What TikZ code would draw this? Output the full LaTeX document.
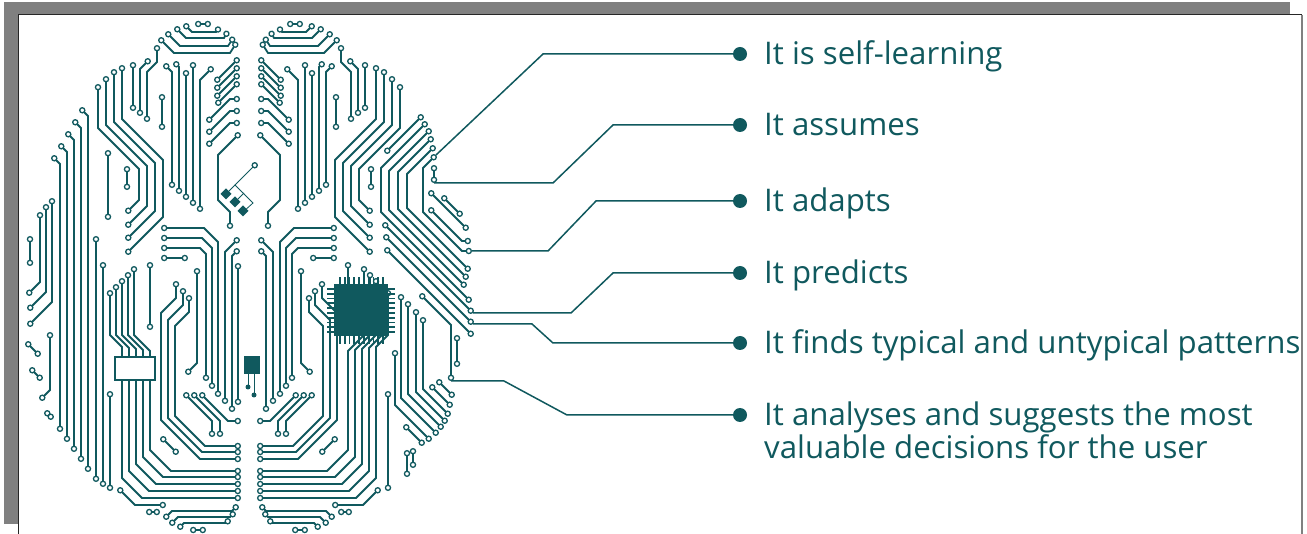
\documentclass[tikz,border=0pt]{standalone}
\usepackage{fontspec}
\setmainfont{Open Sans}
\usetikzlibrary{arrows.meta,positioning}
\definecolor{brain}{RGB}{16,89,94}
\definecolor{shadow}{RGB}{128,128,128}
\tikzset{pad/.tip={Circle[fill=white,length=6.4pt,line width=1.3pt]}}

\begin{document}
\begin{tikzpicture}[x=1pt,y=-1pt,
    tr/.style={draw=brain,line width=1.8pt,pad-pad},
    thinline/.style={draw=brain,line width=0.8pt},
    bullet/.style={circle,fill=brain,inner sep=0pt,minimum size=14pt},
    lbl/.style={anchor=base west,inner sep=0pt,text=brain,align=left,
        font=\fontsize{31.2}{33}\selectfont},
    conn/.style={draw=brain,line width=1.5pt}]
    \useasboundingbox (0,0) rectangle (1307,534);
    % Rahmen
    \fill[shadow] (4,2) rectangle (1290,524);
    \fill[white] (18,15) rectangle (1302,534);
    \draw[black!85,line width=1pt] (18,534) -- (18,15) -- (1302,15);
    \draw[shadow,line width=1.3pt] (1302,15) -- (1302,534);

    % Punkte und Texte
    \node[bullet] (b1) at (740,54) {};
    \node[bullet] (b2) at (740,125) {};
    \node[bullet] (b3) at (740,201) {};
    \node[bullet] (b4) at (740,273) {};
    \node[bullet] (b5) at (740,343) {};
    \node[bullet] (b6) at (740,415) {};
    \node[lbl] (t1) at ([xshift=24pt,yshift=-11pt]b1.center) {It is self-learning};
    \node[lbl] (t2) at ([xshift=24pt,yshift=-11pt]b2.center) {It assumes};
    \node[lbl] (t3) at ([xshift=24pt,yshift=-11pt]b3.center) {It adapts};
    \node[lbl] (t4) at ([xshift=24pt,yshift=-11pt]b4.center) {It predicts};
    \node[lbl] (t5) at ([xshift=24pt,yshift=-11pt]b5.center) {It finds typical and untypical patterns};
    \node[lbl] (t6) at ([xshift=24pt,yshift=-44pt]b6.center) {It analyses and suggests the most\\valuable decisions for the user};

    \coordinate (s1) at (436,155);
    \coordinate (s2) at (434,183);
    \coordinate (s3) at (472,251);
    \coordinate (s4) at (473,313);
    \coordinate (s5) at (473,324);
    \coordinate (s6) at (451,381);
    \draw[conn] (s1) -- (543,54) -- (b1);
    \draw[conn] (s2) -- (553,183) -- (613,125) -- (b2);
    \draw[conn] (s3) -- (548,251) -- (596,201) -- (b3);
    \draw[conn] (s4) -- (571,313) -- (613,273) -- (b4);
    \draw[conn] (s5) -- (532,324) -- (553,343) -- (b5);
    \draw[conn] (s6) -- (504,381) -- (567,415) -- (b6);

    % beide Hirnhaelften (rechts gespiegelt)
    \foreach \sx/\dx in {1/0,-1/498}
    {
        \begin{scope}[xshift=\dx pt,xscale=\sx]
            \draw[tr] (195,24) -- (211,24);
            \draw[tr] (184,24) -- (192,32) -- (216,32) -- (220,27);
            \draw[tr] (175,27) -- (186,38) -- (224,38) -- (228,31);
            \draw[tr] (166,32) -- (180,46) -- (228,46) -- (234,37);
            \draw[tr] (159,38) -- (174,53) -- (230,53) -- (237,42);
            \draw[tr] (239,58) -- (215,82);
            \draw[tr] (239,66) -- (215,90);
            \draw[tr] (239,74) -- (215,98);
            \draw[tr] (239,82) -- (216,105);
            \draw[tr] (240,99) -- (230,99) -- (207,122);
            \draw[tr] (240,111) -- (230,111) -- (207,134);
            \draw[tr] (240,123) -- (230,123) -- (207,146);
            \draw[tr] (240,133) -- (218,155) -- (218,200) -- (230,212) -- (230,229);
            \draw[tr] (122,65) -- (122,119) -- (163,160) -- (163,217) -- (126,254);
            \draw[tr] (114,69) -- (114,122) -- (155,163) -- (155,211) -- (126,240);
            \draw[tr] (106,76) -- (106,125) -- (147,166) -- (147,206) -- (126,227);
            \draw[tr] (98,84) -- (98,128) -- (139,169) -- (139,200) -- (126,213);
            \draw[tr] (133,62) -- (133,111);
            \draw[tr] (150,59) -- (140,69) -- (140,116);
            \draw[tr] (157,45) -- (157,62) -- (147,72) -- (147,122);
            \draw[tr] (162,94) -- (162,130);
            \draw[tr] (127,166) -- (127,190);
            \draw[tr] (164,64) -- (172,72) -- (172,188);
            \draw[tr] (174,62) -- (179,67) -- (179,194);
            \draw[tr] (186,70) -- (186,200);
            \draw[tr] (193,62) -- (193,206);
            \draw[tr] (213,67) -- (200,80) -- (200,212);
            \draw[tr] (161,248) -- (200,248) -- (206,254) -- (206,381);
            \draw[tr] (161,238) -- (202,238) -- (212,248) -- (212,389);
            \draw[tr] (161,228) -- (204,228) -- (218,242) -- (218,397);
            \draw[tr] (161,258) -- (188,258);
            \draw[tr] (239,238) -- (225,252) -- (225,404);
            \draw[tr] (239,249) -- (232,256) -- (232,412);
            \draw[tr] (110,290) -- (110,335) -- (122,347) -- (122,478) -- (142,498) -- (241,498);
            \draw[tr] (116,284) -- (116,335) -- (129,348) -- (129,471) -- (149,491) -- (241,491);
            \draw[tr] (122,278) -- (122,335) -- (136,349) -- (136,464) -- (156,484) -- (241,484);
            \draw[tr] (128,272) -- (128,335) -- (143,350) -- (143,457) -- (163,477) -- (241,477);
            \draw[tr] (134,266) -- (134,335) -- (150,351) -- (150,450) -- (171,471) -- (241,471);
            \draw[tr] (176,281) -- (176,298) -- (161,313) -- (161,420) -- (200,459) -- (241,459);
            \draw[tr] (183,288) -- (183,305) -- (168,320) -- (168,418) -- (202,452) -- (241,452);
            \draw[tr] (189,295) -- (189,312) -- (175,326) -- (175,416) -- (205,446) -- (241,446);
            \draw[tr] (186,374) -- (197,363) -- (197,268);
            \draw[tr] (150,262) -- (150,330);
            \draw[tr] (161,437) -- (178,454);
            \draw[tr] (184,393) -- (212,421) -- (212,437);
            \draw[tr] (192,393) -- (220,421) -- (220,437);
            \draw[tr] (200,393) -- (228,421) -- (241,421);
            \draw[tr] (238,505) -- (232,511) -- (172,511) -- (164,519);
            \draw[tr] (235,512) -- (230,517) -- (178,517) -- (170,525);
            \draw[tr] (230,519) -- (226,523) -- (184,523) -- (178,529);
            \draw[tr] (206,530) -- (190,530);
            \draw[tr] (118,488) -- (135,505) -- (166,505);
            \draw[tr] (146,512) -- (160,512);
            \draw[tr] (110,391) -- (110,491);
        \end{scope}
    }

    % nur links
    \draw[tr] (52,156) -- (60,164) -- (60,432);
    \draw[tr] (59,144) -- (67,152) -- (67,442);
    \draw[tr] (66,132) -- (74,140) -- (74,452);
    \draw[tr] (73,120) -- (81,128) -- (81,462);
    \draw[tr] (80,108) -- (88,116) -- (88,472);
    \draw[tr] (96,236) -- (96,482);
    \draw[tr] (103,262) -- (103,487);
    \draw[tr] (108,150) -- (108,220);
    \draw[tr] (40,212) -- (40,282) -- (27,295);
    \draw[tr] (46,204) -- (46,292) -- (28,310);
    \draw[tr] (52,198) -- (52,302) -- (28,326);
    \draw[tr] (30,236) -- (30,266);
    \draw[tr] (26,342) -- (40,356);
    \draw[tr] (30,368) -- (42,380);
    \draw[tr] (40,400) -- (50,390) -- (50,332);
    \draw[tr] (45,411) -- (53,419);
    \draw[tr] (238,263) -- (238,405);
    \draw[thinline] (226,194) -- (235,185) -- (253,203) -- (243,212);
    \draw[thinline] (235,202) -- (244,193);
    \draw[thinline,-pad] (235,185) -- (257,163);
    \foreach \a/\b in {226/194,235/202,243/211}
        \fill[brain] (\a,\b-5.5) -- (\a+5.5,\b) -- (\a,\b+5.5) -- (\a-5.5,\b) -- cycle;
    \draw[brain,line width=1.5pt,fill=white] (115,357) rectangle (155,380);

    % nur rechts
    \draw[tr] (436,155) -- (423,168) -- (423,212) -- (462,251) -- (472,251);
    \draw[tr] (435,146) -- (407,174) -- (407,208) -- (470,271);
    \draw[tr] (433,137) -- (398,172) -- (398,209) -- (468,279);
    \draw[tr] (431,129) -- (389,171) -- (389,210) -- (466,287);
    \draw[tr] (427,122) -- (381,168) -- (381,212) -- (471,302);
    \draw[tr] (423,115) -- (385,153);
    \draw[tr] (434,165) -- (434,183);
    \draw[tr] (429,191) -- (468,230);
    \draw[tr] (442,196) -- (462,216);
    \draw[tr] (429,208) -- (462,241) -- (471,241);
    \draw[tr] (383,223) -- (473,313);
    \draw[tr] (384,235) -- (473,324);
    \draw[tr] (385,248) -- (473,336);
    \draw[tr] (451,381) -- (451,325) -- (420,294);
    \draw[tr] (457,367) -- (457,335);
    \draw[tr] (401,294) -- (401,398) -- (438,435);
    \draw[tr] (408,301) -- (408,394) -- (443,429);
    \draw[tr] (416,309) -- (416,392) -- (447,423);
    \draw[tr] (423,317) -- (423,389) -- (450,416);
    \draw[tr] (454,397) -- (437,380);
    \draw[tr] (452,407) -- (430,385);
    \draw[tr] (395,350) -- (395,405) -- (431,441);
    \draw[tr] (404,425) -- (424,445);
    \draw[tr] (413,468) -- (413,448);
    \draw[tr] (407,477) -- (407,450);
    % Chip
    \fill[brain] (334,284) rectangle (388,336);
    \foreach \i in {0,...,9}
        {
            \fill[brain] (339+4.8*\i,277) rectangle +(1.8,7);
            \fill[brain] (339+4.8*\i,336) rectangle +(1.8,8);
            \fill[brain] (327,288+4.8*\i) rectangle +(7,1.8);
            \fill[brain] (388,288+4.8*\i) rectangle +(7,1.8);
        }
    \fill[brain] (244,356) rectangle (260,374);
    \draw[thinline] (248,374) -- (248,387);
    \draw[thinline] (254,374) -- (254,395);
    \fill[brain] (248,387) circle (2.5pt);
    \fill[brain] (254,395) circle (2.5pt);
\end{tikzpicture}
\end{document}
